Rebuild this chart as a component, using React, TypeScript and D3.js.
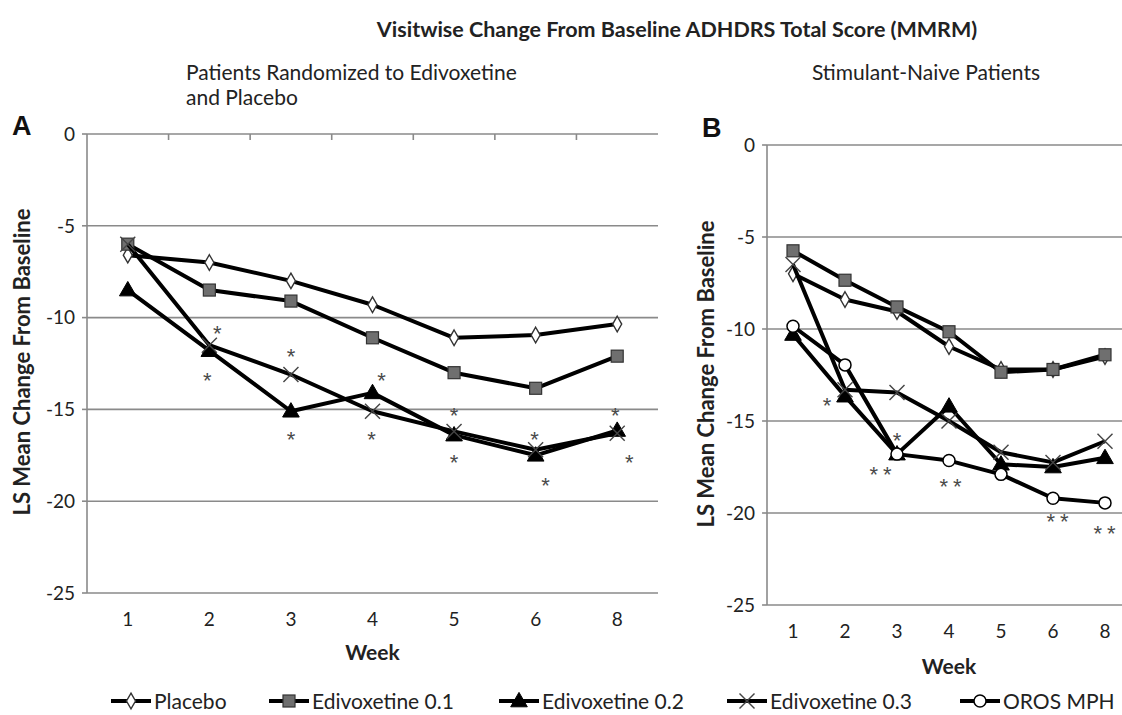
import React from "react";
import * as d3 from "d3";

// ---------- data ----------
const weeks = ["1", "2", "3", "4", "5", "6", "8"];
const yTicks = [0, -5, -10, -15, -20, -25];

const seriesNames = ["Placebo", "Edivoxetine 0.1", "Edivoxetine 0.2", "Edivoxetine 0.3", "OROS MPH"];

// Panel A: patients randomized to edivoxetine and placebo
const placeboA = [-6.6, -7.0, -8.0, -9.3, -11.1, -10.95, -10.35];
const edi01A = [-6.0, -8.5, -9.1, -11.1, -13.0, -13.85, -12.1];
const edi02A = [-8.5, -11.8, -15.1, -14.1, -16.4, -17.5, -16.15];
const edi03A = [-6.0, -11.5, -13.1, -15.1, -16.2, -17.2, -16.3];

// Panel B: stimulant-naive patients
const placeboB = [-7.0, -8.4, -9.05, -10.95, -12.2, -12.2, -11.5];
const edi01B = [-5.75, -7.35, -8.8, -10.15, -12.35, -12.2, -11.4];
const edi02B = [-10.3, -13.65, -16.8, -14.2, -17.35, -17.5, -17.0];
const edi03B = [-6.5, -13.3, -13.45, -15.0, -16.7, -17.25, -16.1];
const orosB = [-9.85, -11.95, -16.8, -17.15, -17.9, -19.2, -19.45];

// significance markers: week, value level, label
const starsAWeek = ["2", "2", "3", "3", "4", "4", "5", "5", "6", "6", "8", "8"];
const starsAValue = [-10.6, -13.2, -11.9, -16.4, -13.2, -16.4, -15.1, -17.65, -16.4, -18.9, -15.1, -17.65];
const starsAText = ["*", "*", "*", "*", "*", "*", "*", "*", "*", "*", "*", "*"];
const starsADx = [8, -2, 0, 0, 9, -1, 0, 0, -1, 10, -2, 12];

const starsBWeek = ["2", "3", "3", "4", "6", "8"];
const starsBValue = [-13.9, -15.8, -17.65, -18.3, -20.2, -20.85];
const starsBText = ["*", "*", "**", "**", "**", "**"];
const starsBDx = [-18, 0, -14, 4, 7, 2];

// ---------- styles ----------
const FONT = "Lato, 'Open Sans', sans-serif";
const GRID = "#8a8a8a";
const TXT = "#222";

type MarkerKind = "diamond" | "square" | "triangle" | "x" | "circle";
const kinds: MarkerKind[] = ["diamond", "square", "triangle", "x", "circle"];

function Marker({ kind, x, y }: { kind: MarkerKind; x: number; y: number }) {
  if (kind === "diamond") {
    const p = d3.symbol().type(d3.symbolDiamond).size(70)();
    return <path d={p || ""} transform={`translate(${x},${y})`} fill="#fff" stroke="#333" strokeWidth={1.4} />;
  }
  if (kind === "square") {
    return <rect x={x - 6} y={y - 6} width={12} height={12} fill="#6f6f6f" stroke="#333" strokeWidth={1.2} />;
  }
  if (kind === "triangle") {
    const p = d3.symbol().type(d3.symbolTriangle).size(120)();
    return <path d={p || ""} transform={`translate(${x},${y + 1})`} fill="#000" stroke="#000" strokeWidth={1} />;
  }
  if (kind === "x") {
    const s = 7.5;
    return (
      <g stroke="#444" strokeWidth={1.4}>
        <line x1={x - s} y1={y - s} x2={x + s} y2={y + s} />
        <line x1={x - s} y1={y + s} x2={x + s} y2={y - s} />
      </g>
    );
  }
  return <circle cx={x} cy={y} r={6} fill="#fff" stroke="#000" strokeWidth={1.5} />;
}

type PanelProps = {
  letter: string;
  left: number;
  right: number;
  top: number;
  bottom: number;
  series: number[][];
  kindsUsed: MarkerKind[];
  starWeek: string[];
  starValue: number[];
  starText: string[];
  starDx: number[];
  showTopTicks: boolean;
  titleX: number;
  titleY: number;
  letterX: number;
  letterY: number;
  weekY: number;
  clipW: number;
};

function Panel(p: PanelProps) {
  const x = d3.scaleBand<string>().domain(weeks).range([p.left, p.right]);
  const y = d3.scaleLinear().domain([-25, 0]).range([p.bottom, p.top]);
  const cx = (w: string) => (x(w) as number) + x.bandwidth() / 2;
  const line = d3
    .line<number>()
    .x((_, i) => cx(weeks[i]))
    .y((d) => y(d));
  const gridRight = Math.min(p.right, p.clipW);
  return (
    <g>
      {yTicks.map((t) => (
        <g key={t}>
          <line x1={p.left} x2={gridRight} y1={y(t)} y2={y(t)} stroke={GRID} strokeWidth={1.6} />
          <line x1={p.left - 5} x2={p.left} y1={y(t)} y2={y(t)} stroke={GRID} strokeWidth={1.6} />
          <text x={p.left - 12} y={y(t)} dy="0.36em" textAnchor="end" fontSize={19} fill={TXT} fontFamily={FONT}>
            {t}
          </text>
        </g>
      ))}
      <line x1={p.left} x2={p.left} y1={p.top} y2={p.bottom} stroke={GRID} strokeWidth={1.6} />
      {p.showTopTicks &&
        weeks.slice(1).map((w) => (
          <line key={w} x1={x(w) as number} x2={x(w) as number} y1={p.top} y2={p.top + 6} stroke={GRID} strokeWidth={1.6} />
        ))}
      {weeks.map((w) => (
        <text key={w} x={cx(w)} y={p.bottom + 33} textAnchor="middle" fontSize={19} fill={TXT} fontFamily={FONT}>
          {w}
        </text>
      ))}
      <text
        x={(p.left + p.right) / 2}
        y={p.weekY}
        textAnchor="middle"
        fontSize={21}
        fontWeight="bold"
        fill={TXT}
        fontFamily={FONT}
      >
        Week
      </text>
      <text
        transform={`translate(${p.titleX},${p.titleY}) rotate(-90)`}
        textAnchor="middle"
        fontSize={22}
        fontWeight="bold"
        fill={TXT}
        fontFamily={FONT}
      >
        LS Mean Change From Baseline
      </text>
      <text x={p.letterX} y={p.letterY} fontSize={27} fontWeight="bold" fill="#111" fontFamily="'Liberation Sans', Arial, sans-serif">
        {p.letter}
      </text>
      {p.series.map((vals, si) => (
        <g key={si}>
          <path d={line(vals) || ""} fill="none" stroke="#000" strokeWidth={4} strokeLinejoin="round" />
          {vals.map((v, i) => (
            <Marker key={i} kind={p.kindsUsed[si]} x={cx(weeks[i])} y={y(v)} />
          ))}
        </g>
      ))}
      {p.starWeek.map((w, i) => (
        <text
          key={i}
          x={cx(w) + p.starDx[i]}
          y={y(p.starValue[i]) + 12}
          textAnchor="middle"
          fontSize={22}
          letterSpacing={p.starText[i].length > 1 ? 5 : 0}
          fill="#4a4a4a"
          fontFamily="'Liberation Sans', sans-serif"
        >
          {p.starText[i]}
        </text>
      ))}
    </g>
  );
}

const legendX = [111, 269, 499, 727, 960];
const LEGEND_Y = 701;

export default function App() {
  const W = 1122;
  const H = 715;
  return (
    <div style={{ position: "absolute", left: 0, top: 0, width: W, height: H, background: "#fff" }}>
      <svg width={W} height={H} style={{ display: "block" }}>
        <rect width={W} height={H} fill="#fff" />
        <text x={677} y={37} textAnchor="middle" fontSize={21.5} fontWeight="bold" fill={TXT} fontFamily={FONT}>
          Visitwise Change From Baseline ADHDRS Total Score (MMRM)
        </text>
        <text x={186} y={80} fontSize={21} fill={TXT} fontFamily={FONT}>
          Patients Randomized to Edivoxetine
        </text>
        <text x={186} y={105} fontSize={21} fill={TXT} fontFamily={FONT}>
          and Placebo
        </text>
        <text x={926} y={80} textAnchor="middle" fontSize={21} fill={TXT} fontFamily={FONT}>
          Stimulant-Naive Patients
        </text>

        <Panel
          letter="A"
          left={87}
          right={658}
          top={134}
          bottom={593}
          series={[placeboA, edi01A, edi02A, edi03A]}
          kindsUsed={kinds}
          starWeek={starsAWeek}
          starValue={starsAValue}
          starText={starsAText}
          starDx={starsADx}
          showTopTicks={true}
          titleX={30}
          titleY={362}
          letterX={12}
          letterY={135}
          weekY={660}
          clipW={W}
        />
        <Panel
          letter="B"
          left={767}
          right={1131}
          top={145}
          bottom={605}
          series={[placeboB, edi01B, edi02B, edi03B, orosB]}
          kindsUsed={kinds}
          starWeek={starsBWeek}
          starValue={starsBValue}
          starText={starsBText}
          starDx={starsBDx}
          showTopTicks={false}
          titleX={714}
          titleY={374}
          letterX={702}
          letterY={137}
          weekY={674}
          clipW={W}
        />

        {seriesNames.map((name, i) => (
          <g key={name}>
            <line x1={legendX[i]} x2={legendX[i] + 40} y1={LEGEND_Y} y2={LEGEND_Y} stroke="#000" strokeWidth={4} />
            <Marker kind={kinds[i]} x={legendX[i] + 20} y={LEGEND_Y} />
            <text x={legendX[i] + 43} y={LEGEND_Y} dy="0.36em" fontSize={21} fill={TXT} fontFamily={FONT}>
              {name}
            </text>
          </g>
        ))}
      </svg>
    </div>
  );
}
